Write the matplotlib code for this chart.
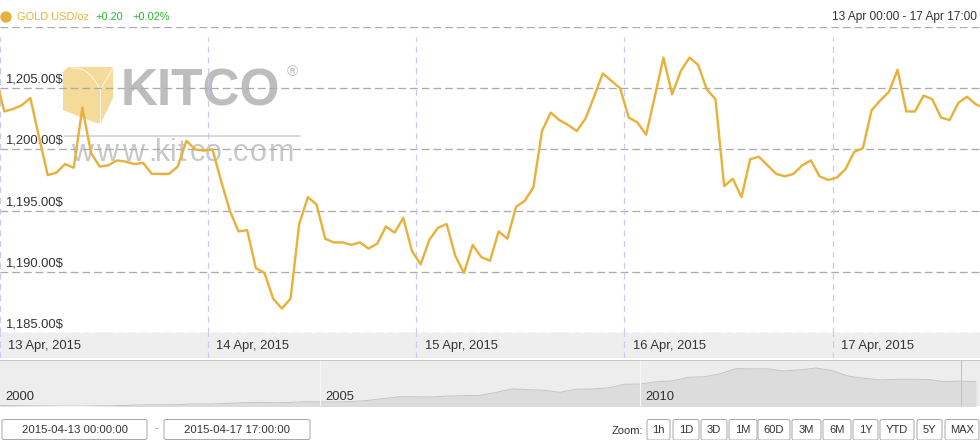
import numpy as np
import pandas as pd
import matplotlib
matplotlib.use("Agg")
import matplotlib.pyplot as plt
import matplotlib.dates as mdates
from matplotlib.patches import FancyBboxPatch, Polygon, Circle

plt.rcParams['font.family'] = ['Liberation Sans', 'DejaVu Sans']

# ---------------- data ----------------
start_time = "2015-04-12 23:30"
gold_prices = [
    1205.9,
    1203.1, 1203.3, 1203.6, 1204.2, 1201.0, 1197.9, 1198.1, 1198.8, 1198.5, 1203.4,
    1199.7, 1198.6, 1198.7, 1199.1, 1199.0, 1198.8, 1198.9, 1198.0, 1198.0, 1198.0,
    1198.6, 1200.7, 1200.0, 1199.9, 1200.0, 1197.4, 1195.0, 1193.3, 1193.4, 1190.3,
    1189.9, 1187.8, 1187.0, 1187.8, 1193.9, 1196.1, 1195.5, 1192.7, 1192.4, 1192.4,
    1192.2, 1192.4, 1191.9, 1192.3, 1193.7, 1193.2, 1194.4, 1191.7, 1190.6, 1192.6,
    1193.6, 1193.9, 1191.3, 1189.9, 1192.2, 1191.2, 1190.9, 1193.3, 1192.7, 1195.3,
    1195.8, 1196.9, 1201.5, 1203.0, 1202.4, 1202.0, 1201.5, 1202.5, 1204.3, 1206.2,
    1205.6, 1205.0, 1202.6, 1202.2, 1201.2, 1204.3, 1207.5, 1204.5, 1206.4, 1207.5,
    1206.9, 1204.9, 1204.1, 1197.0, 1197.6, 1196.1, 1199.2, 1199.4, 1198.7, 1198.0,
    1197.8, 1198.0, 1198.7, 1199.1, 1197.8, 1197.5, 1197.7, 1198.4, 1199.8, 1200.1,
    1203.2, 1204.0, 1204.7, 1206.5, 1203.1, 1203.1, 1204.4, 1204.1, 1202.6, 1202.4,
    1203.8, 1204.3, 1203.7, 1203.35,
]
y_ticks = [1185, 1190, 1195, 1200, 1205]
y_tick_labels = ["1,185.00$", "1,190.00$", "1,195.00$", "1,200.00$", "1,205.00$"]
day_starts = ["2015-04-13", "2015-04-14", "2015-04-15", "2015-04-16", "2015-04-17"]
day_labels = ["13 Apr, 2015", "14 Apr, 2015", "15 Apr, 2015", "16 Apr, 2015", "17 Apr, 2015"]
range_start = "2015-04-13 00:00"
range_end = "2015-04-17 17:00"

# navigator (long-term gold, quarterly, 2000 - 2015)
nav_start_year = 2000.0
nav_values = [
    290, 280, 275, 270, 265, 265, 275, 280, 295, 315, 315, 320,
    350, 345, 365, 390, 410, 395, 400, 435, 430, 425, 440, 485,
    555, 625, 620, 615, 650, 665, 680, 790, 925, 895, 870, 795,
    910, 920, 960, 1100, 1110, 1195, 1225, 1365, 1385, 1505, 1700, 1690,
    1690, 1610, 1650, 1720, 1630, 1415, 1330, 1270, 1290, 1290, 1285, 1200,
    1220, 1200,
]
nav_year_labels = ["2000", "2005", "2010"]
nav_label_years = [2000, 2005, 2010]

header_name = "GOLD USD/oz"
header_change = "+0.20"
header_pct = "+0.02%"
header_range = "13 Apr 00:00 - 17 Apr 17:00"
input_from = "2015-04-13 00:00:00"
input_to = "2015-04-17 17:00:00"
zoom_buttons = ["1h", "1D", "3D", "1M", "60D", "3M", "6M", "1Y", "YTD", "5Y", "MAX"]
watermark_url = "www.kitco.com"

# ---------------- styles / layout ----------------
W, H = 980, 440
GOLD = "#E8B13A"
GREEN = "#2DB52D"
TXT = "#333333"
GRID = "#ABABAB"
VGRID = "#C9C9F2"
PX = 0.72  # 1 px in points at dpi 100

times = pd.date_range(start_time, periods=len(gold_prices), freq="h")
x0 = mdates.date2num(pd.Timestamp(range_start))
x1 = mdates.date2num(pd.Timestamp(range_end))
day_x = [mdates.date2num(pd.Timestamp(d)) for d in day_starts]

fig = plt.figure(figsize=(W / 100, H / 100), dpi=100, facecolor="white")

def fax(top, bottom):
    return [0, (H - bottom) / H, 1, (bottom - top) / H]

# decoration axes in pixel coordinates (behind everything)
deco = fig.add_axes([0, 0, 1, 1], zorder=0)
deco.set_xlim(0, W)
deco.set_ylim(H, 0)
deco.axis("off")

# ---- watermark ----
cube = Polygon([(63, 72), (68, 67), (113, 67), (113, 98), (101, 123), (96, 123), (63, 110)],
               closed=True, facecolor="#F4D994", edgecolor="none", alpha=0.95)
deco.add_patch(cube)
deco.plot([100, 100], [90, 123], color="white", lw=1 * PX, alpha=0.8)
deco.plot([100, 113], [90, 68], color="white", lw=1 * PX, alpha=0.8)
tt = np.linspace(0, 1, 20)
deco.plot(72 + 28 * tt ** 0.6, 68 + 22 * tt ** 1.6, color="white", lw=1 * PX, alpha=0.8)
deco.text(121, 106, "KITCO", fontsize=37, fontweight="bold", color="#BDBDBD",
          ha="left", va="baseline")
deco.text(287, 72, "®", fontsize=11, color="#C2C2C2", ha="left", va="center")
deco.plot([65, 300], [136, 136], color="#CDCDCD", lw=1.5 * PX)
url_centers = [82, 107, 133, 152, 163, 173, 182, 197, 213, 229, 240, 258, 282]
for cx, ch in zip(url_centers, watermark_url):
    deco.text(cx, 161, ch, fontsize=22, color="#C8C8C8", ha="center", va="baseline")

# ---- header ----
deco.add_patch(Circle((6, 17), 5, color="#E3B33B"))
deco.text(17, 17.5, header_name, fontsize=7.9, color=GOLD, ha="left", va="center")
deco.text(95.5, 17.5, header_change, fontsize=7.9, color=GREEN, ha="left", va="center")
deco.text(132, 17.5, header_pct, fontsize=7.9, color=GREEN, ha="left", va="center")
deco.text(977, 17, header_range, fontsize=8.6, color=TXT, ha="right", va="center")

# ---- main chart ----
ax = fig.add_axes(fax(27, 333), zorder=2)
ax.set_facecolor("none")
ax.set_xlim(x0, x1)
ax.set_ylim(1185, 1210)
for s in ax.spines.values():
    s.set_visible(False)
ax.set_xticks([])
ax.set_yticks([])
for lv in y_ticks + [1210]:
    ax.axhline(lv, color=GRID, lw=1.3 * PX, dashes=(6, 3), zorder=1)
ax.vlines(day_x, 1185, 1209.2, color=VGRID, lw=1.2 * PX, linestyles=(0, (5, 4)), zorder=1)
for lv, lab in zip(y_ticks, y_tick_labels):
    ax.text(5 / W, lv + 0.2, lab, transform=ax.get_yaxis_transform(),
            fontsize=9.4, color=TXT, ha="left", va="bottom", zorder=3)
ax.plot(times, gold_prices, color=GOLD, lw=2.4 * PX, zorder=4, clip_on=True,
        solid_joinstyle="round")

# ---- date band ----
band = fig.add_axes(fax(333, 358), zorder=1)
band.set_facecolor("#EEEEEE")
band.set_xlim(x0, x1)
band.set_ylim(0, 1)
for s in band.spines.values():
    s.set_visible(False)
band.set_xticks([])
band.set_yticks([])
band.vlines(day_x, 0, 1, color=VGRID, lw=1.2 * PX, linestyles=(0, (5, 4)))
for dx, lab in zip(day_x, day_labels):
    band.annotate(lab, (dx, 0.5), xytext=(6, 0), textcoords="offset points",
                  fontsize=9.4, color=TXT, ha="left", va="center")
deco.plot([0, W], [358.5, 358.5], color="white", lw=1 * PX)
deco.plot([0, W], [360.5, 360.5], color="#C8C8C8", lw=1 * PX)

# ---- navigator ----
nav = fig.add_axes(fax(361, 406), zorder=1)
nav.set_facecolor("#EDEDED")
nav_years = nav_start_year + 0.25 * np.arange(len(nav_values))
nav.set_xlim(2000.0, 2000.0 + W / 64.0)
nav.set_ylim(270, 1990)
for s in nav.spines.values():
    s.set_visible(False)
nav.set_xticks([])
nav.set_yticks([])
nav.fill_between(nav_years, nav_values, 0, color="#DCDCDC", lw=0)
nav.plot(nav_years, nav_values, color="#C6C6C6", lw=1 * PX)
nav.vlines([2005, 2010], 0, 2090, color="#F7F7F7", lw=1 * PX)
nav.vlines([2000 + 961 / 64.0], 0, 2090, color="#C0C0C0", lw=1 * PX)
for yr, lab in zip(nav_label_years, nav_year_labels):
    nav.annotate(lab, (yr, 0), xycoords=("data", "axes fraction"), xytext=(4, 2),
                 textcoords="offset points", fontsize=9.4, color=TXT, ha="left", va="bottom")
deco.add_patch(Polygon([(12, 372), (12, 383), (22, 377.5)], closed=True, color="black"))

# ---- inputs and zoom buttons ----
for (bx, bw), txt in zip([(2, 145), (164, 146)], [input_from, input_to]):
    deco.add_patch(FancyBboxPatch((bx, 419.5), bw, 20, boxstyle="round,pad=0,rounding_size=2",
                                  facecolor="white", edgecolor="#AAAAAA", lw=1 * PX))
    deco.text(bx + bw / 2, 430, txt, fontsize=8.2, color=TXT, ha="center", va="center")
deco.text(156, 428, "-", fontsize=8, color="#999999", ha="center", va="center")
deco.text(643, 430.5, "Zoom:", fontsize=8.0, color=TXT, ha="right", va="center")
btn_pos = [(647, 23), (673, 26), (701, 26), (729, 28), (758, 32), (792, 29),
           (823, 28), (853, 25), (880, 34), (917, 25), (945, 34)]
for (bx, bw), lab in zip(btn_pos, zoom_buttons):
    deco.add_patch(FancyBboxPatch((bx, 419.5), bw, 20.5, boxstyle="round,pad=0,rounding_size=2",
                                  facecolor="white", edgecolor="#AAAAAA", lw=1 * PX))
    deco.text(bx + bw / 2, 430, lab, fontsize=8.0, color=TXT, ha="center", va="center")

fig.savefig("out.png", dpi=100, facecolor="white")
